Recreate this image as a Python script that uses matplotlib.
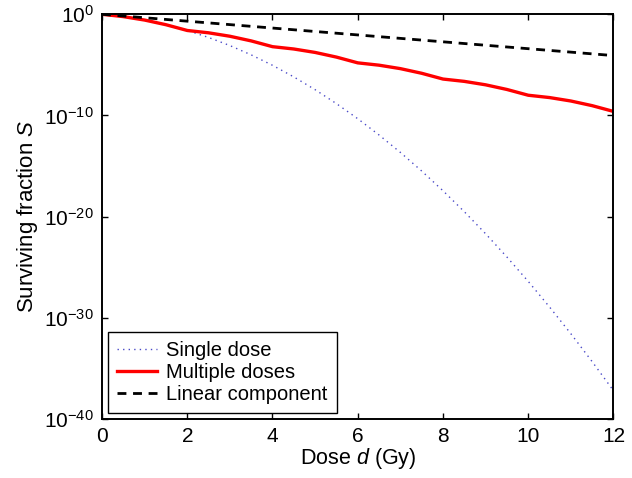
import numpy as np
import matplotlib
matplotlib.use("Agg")
import matplotlib.pyplot as plt

plt.rcParams['font.family'] = ['Liberation Sans', 'DejaVu Sans']
plt.rcParams['mathtext.fontset'] = 'custom'
plt.rcParams['mathtext.rm'] = 'Liberation Sans'
plt.rcParams['mathtext.it'] = 'Liberation Sans:italic'

# Dose grid (Gy)
dose = [0.0, 0.5, 1.0, 1.5, 2.0, 2.5, 3.0, 3.5, 4.0, 4.5, 5.0, 5.5, 6.0,
        6.5, 7.0, 7.5, 8.0, 8.5, 9.0, 9.5, 10.0, 10.5, 11.0, 11.5, 12.0]

# log10 of surviving fraction, single acute dose
single_log10 = [0.0, -0.23, -0.57, -1.03, -1.60, -2.29, -3.09, -4.01, -5.04,
                -6.19, -7.45, -8.83, -10.32, -11.93, -13.65, -15.49, -17.44,
                -19.51, -21.69, -23.99, -26.40, -28.93, -31.57, -34.33, -37.20]

# log10 of surviving fraction, dose delivered in 2 Gy fractions
multiple_log10 = [0.0, -0.23, -0.57, -1.03, -1.60, -1.83, -2.17, -2.63, -3.20,
                  -3.43, -3.77, -4.23, -4.80, -5.03, -5.37, -5.83, -6.40,
                  -6.63, -6.97, -7.43, -8.00, -8.23, -8.57, -9.03, -9.60]

# log10 of surviving fraction, linear term only
linear_dose = [0, 2, 4, 6, 8, 10, 12]
linear_log10 = [0.0, -0.68, -1.36, -2.04, -2.72, -3.40, -4.08]

xticks = [0, 2, 4, 6, 8, 10, 12]
yticks = [1e0, 1e-10, 1e-20, 1e-30, 1e-40]

fig = plt.figure(figsize=(6.32, 4.78), dpi=100)
ax = fig.add_axes([0.1614, 0.1234, 0.8093, 0.8467])

ax.semilogy(dose, 10.0 ** np.array(single_log10), color='#4a4ac8',
            lw=1.0, ls=(0, (1, 3.0)), label='Single dose')
ax.semilogy(dose, 10.0 ** np.array(multiple_log10), color='#ff0000',
            lw=2.4, label='Multiple doses')
ax.semilogy(linear_dose, 10.0 ** np.array(linear_log10), color='black',
            lw=2.0, ls=(0, (3.2, 2.4)), label='Linear component')

ax.set_xlim(0, 12)
ax.set_ylim(1e-40, 1e0)
ax.set_xticks(xticks)
ax.set_yticks(yticks)
ax.yaxis.set_minor_locator(matplotlib.ticker.NullLocator())
ax.tick_params(direction='in', length=4, width=1.0, top=True, right=True,
               labelsize=15)
ax.tick_params(axis='x', pad=6)
ax.tick_params(axis='y', pad=6)
for s in ax.spines.values():
    s.set_linewidth(1.4)

ax.set_xlabel(r'Dose $d$ (Gy)', fontsize=15.5, labelpad=0)
ax.set_ylabel(r'Surviving fraction $S$', fontsize=16, labelpad=3)

leg = ax.legend(loc='lower left', fontsize=14.5, frameon=True, fancybox=False,
                edgecolor='black', framealpha=1, borderaxespad=0.3,
                handlelength=2.0, handletextpad=0.45, labelspacing=0.15,
                borderpad=0.45)
leg.get_frame().set_linewidth(1.0)

fig.savefig('out.png', dpi=100)
